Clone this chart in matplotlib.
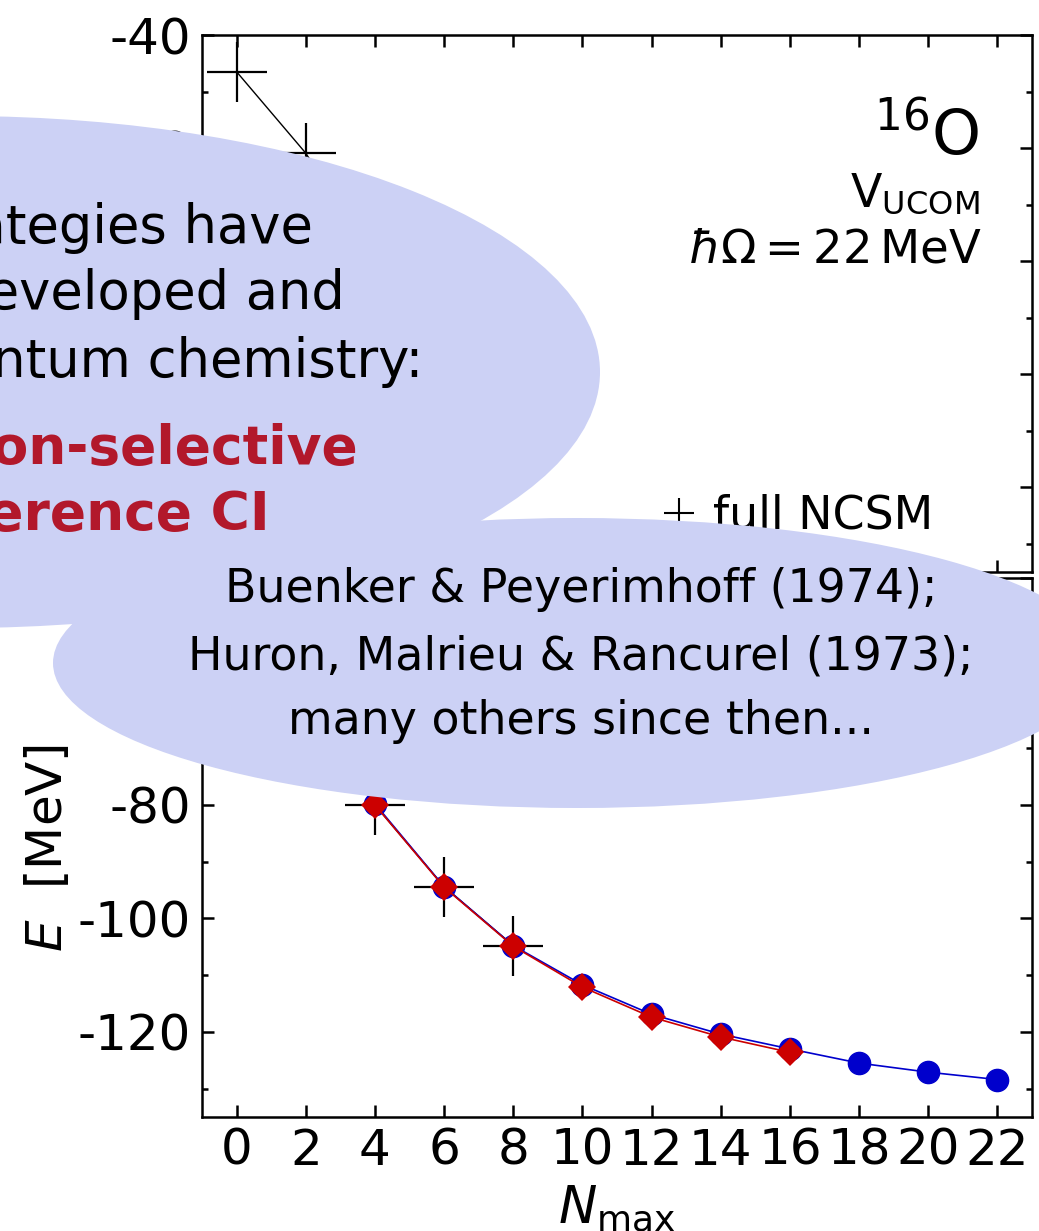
import numpy as np
import matplotlib.pyplot as plt
from matplotlib.patches import Ellipse
from matplotlib.lines import Line2D

plt.rcParams["font.family"] = "DejaVu Sans"
plt.rcParams["mathtext.fontset"] = "dejavusans"
plt.rcParams["axes.unicode_minus"] = False

# --- Data: 16O ground-state energy vs. model space size ---
nmax_ncsm = [0, 2, 4, 6, 8]
e_ncsm = [-46.5, -60.9, -80.0, -94.4, -104.8]

nmax_blue = [4, 6, 8, 10, 12, 14, 16, 18, 20, 22]
e_blue = [-79.8, -94.4, -104.8, -111.7, -116.9, -120.4, -123.0, -125.5, -127.1, -128.4]

nmax_red = [4, 6, 8, 10, 12, 14, 16]
e_red = [-80.0, -94.5, -104.9, -112.1, -117.4, -120.9, -123.6]

# balloon texts
note_lines = ["Similar strategies have", "been developed and", "used in quantum chemistry:"]
note_red = ["configuration-selective", "multi-reference CI"]
refs = ["Buenker & Peyerimhoff (1974);",
        "Huron, Malrieu & Rancurel (1973);",
        "many others since then..."]

W, H = 1039, 1231
fig = plt.figure(figsize=(W / 100, H / 100), dpi=100)


def setup(ax):
    ax.set_xlim(-1, 23)
    ax.set_ylim(-135, -40)
    ax.set_xticks(np.arange(0, 23, 2))
    ax.set_yticks(np.arange(-120, -39, 20))
    ax.set_yticks(np.arange(-130, -39, 10), minor=True)
    ax.tick_params(which="both", direction="in", top=True, right=True,
                   labelsize=36, width=1.8)
    ax.tick_params(which="major", length=8.6)
    ax.tick_params(which="minor", length=4.5)
    ax.tick_params(axis="x", pad=7)
    ax.tick_params(axis="y", pad=8)
    ax.set_xlabel(r"$N_{\mathrm{max}}$", fontsize=37, labelpad=6)
    ax.set_ylabel(r"$E$  [MeV]", fontsize=36, labelpad=4)
    for s in ax.spines.values():
        s.set_linewidth(1.8)


# upper frame: full NCSM only
ax1 = fig.add_axes([202 / W, 1 - 572 / H, 830 / W, 537 / H])
setup(ax1)
ax1.plot(nmax_ncsm, e_ncsm, color="k", lw=1.0, marker="+", ms=43, mew=1.6)
ax1.text(0.937, 0.777, r"$^{16}$O", transform=ax1.transAxes, ha="right",
         va="baseline", fontsize=45)
ax1.text(0.937, 0.680, r"V$_{\mathrm{UCOM}}$", transform=ax1.transAxes,
         ha="right", va="baseline", fontsize=33)
ax1.text(0.939, 0.577, r"$\hbar\Omega = 22\,\mathrm{MeV}$",
         transform=ax1.transAxes, ha="right", va="baseline", fontsize=33.5)
h = Line2D([], [], color="k", marker="+", linestyle="none", ms=22, mew=1.5)
ax1.legend([h], ["full NCSM"], loc="center left", bbox_to_anchor=(0.549, 0.104),
           frameon=False, fontsize=33, handlelength=0.95, handletextpad=0.25,
           borderpad=0, borderaxespad=0)

# lower frame: NCSM plus truncated results
ax2 = fig.add_axes([202 / W, 1 - 1117 / H, 830 / W, 539 / H])
setup(ax2)
ax2.plot(nmax_ncsm, e_ncsm, color="k", lw=1.0, marker="+", ms=43, mew=1.6)
ax2.plot(nmax_blue, e_blue, color="#0000cc", lw=1.2, marker="o", ms=16)
ax2.plot(nmax_red, e_red, color="#cc0000", lw=1.2, marker="D", ms=14.5, mew=0)

# speech balloons on top
ov = fig.add_axes([0, 0, 1, 1])
ov.set_xlim(0, W)
ov.set_ylim(H, 0)
ov.axis("off")
balloon = "#ccd1f5"

ov.add_patch(Ellipse((-40, 372), 1280, 512, color=balloon, lw=0))
for txt, x, y in zip(note_lines, [313, 345, 423], [243, 309, 377]):
    ov.text(x, y, txt, ha="right", va="baseline", fontsize=38)
for txt, x, y in zip(note_red, [358, 270], [464, 530]):
    ov.text(x, y, txt, ha="right", va="baseline", fontsize=38.5,
            fontweight="bold", color="#b2182b")

ov.add_patch(Ellipse((577, 663), 1048, 290, color=balloon, lw=0))
for txt, y in zip(refs, [602, 669, 734]):
    ov.text(581, y, txt, ha="center", va="baseline", fontsize=33)

fig.savefig("out.png", dpi=100)
